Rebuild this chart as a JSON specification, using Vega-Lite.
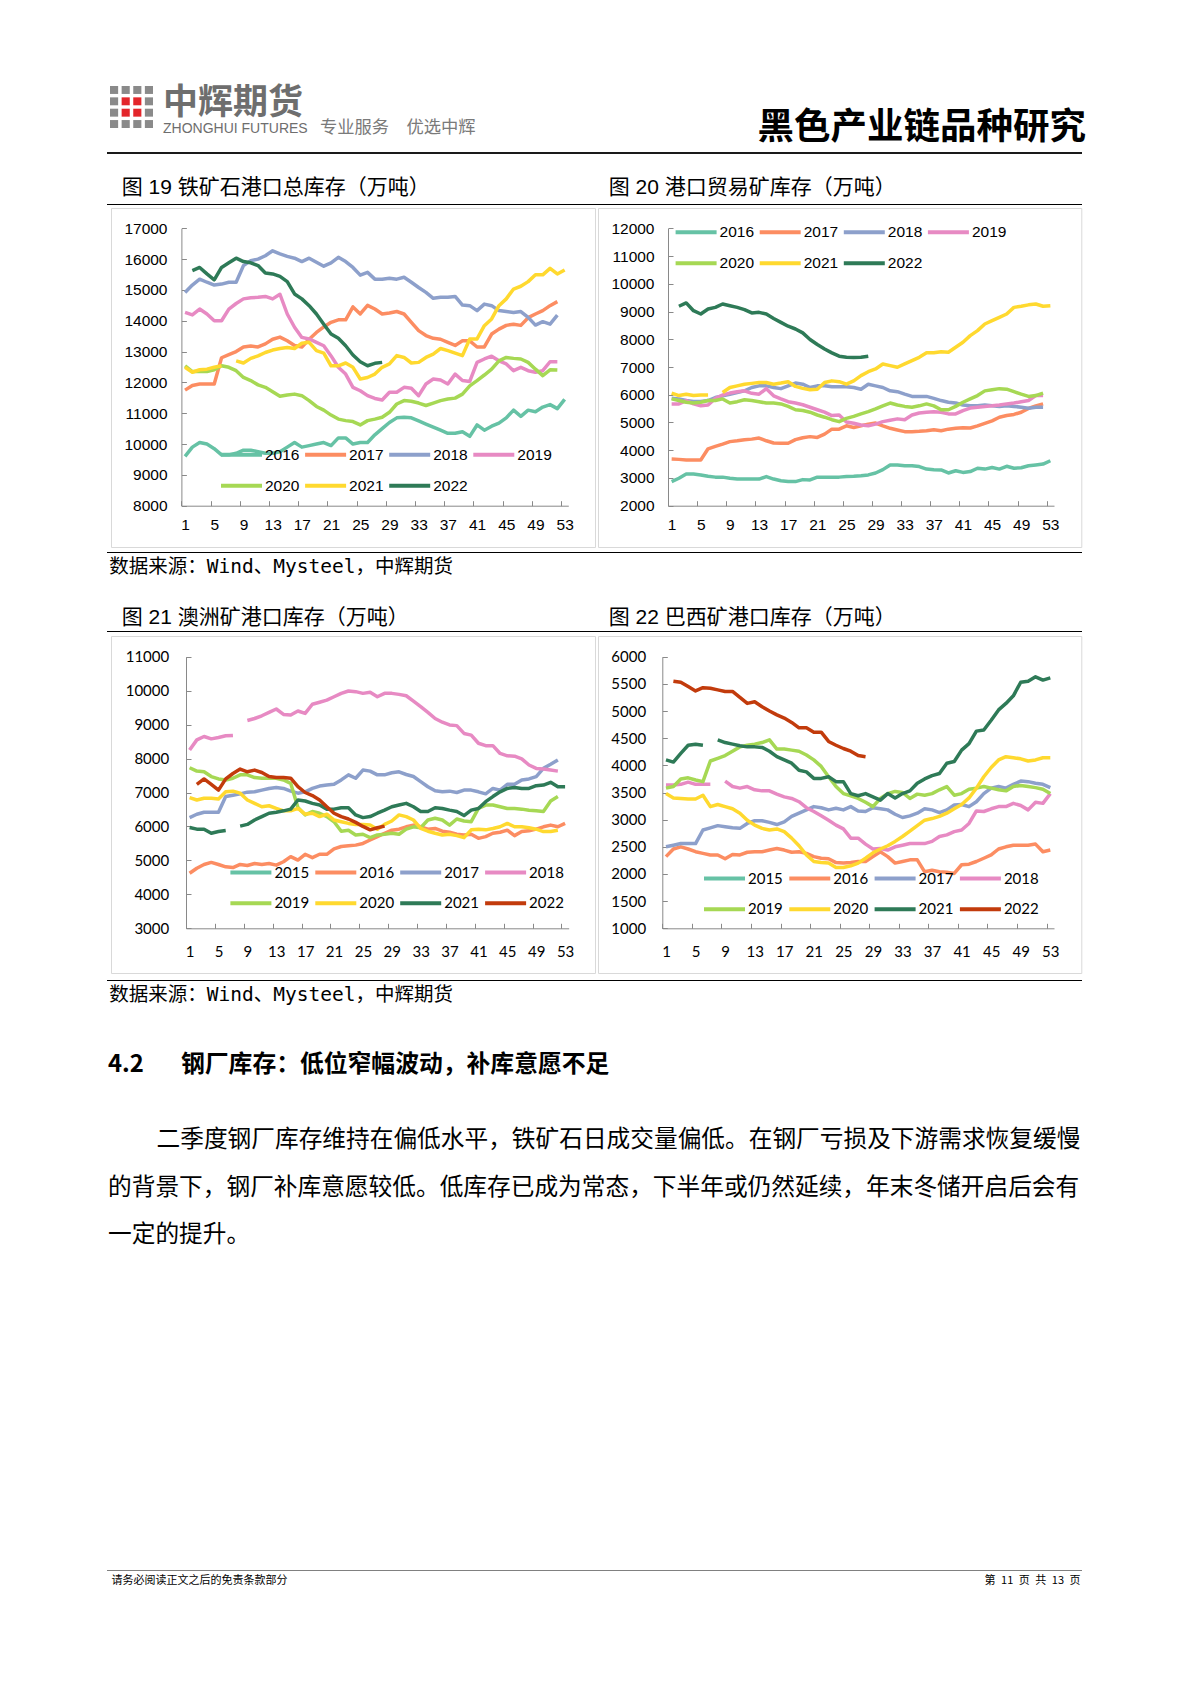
{
"$schema": "https://vega.github.io/schema/vega-lite/v6.json",
"background": "white",
"padding": {"left": 107, "top": 0, "right": 108, "bottom": 0},
"spacing": 0,
"resolve": {"scale": {"color": "independent"}, "legend": {"color": "independent"}},
"config": {
  "view": {"stroke": null},
  "title": {"orient": "bottom", "anchor": "start", "frame": "group", "baseline": "top", "font": "Noto Sans CJK SC", "fontWeight": "normal", "color": "#000000"},
  "axis": {"grid": false, "domainColor": "#898989", "tickColor": "#898989", "labelColor": "#000000", "title": null, "labelFlush": false, "labelOverlap": false, "tickSize": -5},
  "legend": {"orient": "none", "direction": "horizontal", "columns": 4, "symbolType": "stroke", "symbolSize": 1681, "symbolStrokeWidth": 4, "labelOffset": 1, "padding": 0, "labelColor": "#000000"}
},
"datasets": {
  "none": [],
  "icon": [
    {"r":0,"c":0,"k":"g"},{"r":0,"c":1,"k":"g"},{"r":0,"c":2,"k":"g"},{"r":0,"c":3,"k":"g"},
    {"r":1,"c":0,"k":"g"},{"r":1,"c":1,"k":"r"},{"r":1,"c":2,"k":"r"},{"r":1,"c":3,"k":"g"},
    {"r":2,"c":0,"k":"g"},{"r":2,"c":1,"k":"r"},{"r":2,"c":2,"k":"r"},{"r":2,"c":3,"k":"g"},
    {"r":3,"c":0,"k":"g"},{"r":3,"c":1,"k":"g"},{"r":3,"c":2,"k":"g"},{"r":3,"c":3,"k":"g"}
  ],
  "c19": [
    {"w":1,"2016":9600,"2017":11750,"2018":14920,"2019":14270,"2020":12540,"2021":12490},
    {"w":2,"2016":9900,"2017":11900,"2018":15160,"2019":14190,"2020":12350,"2021":12330,"2022":15630},
    {"w":3,"2016":10050,"2017":11950,"2018":15350,"2019":14380,"2020":12350,"2021":12410,"2022":15730},
    {"w":4,"2016":10000,"2017":11950,"2018":15250,"2019":14220,"2020":12350,"2021":12430,"2022":15520},
    {"w":5,"2016":9850,"2017":11950,"2018":15160,"2019":14000,"2020":12410,"2021":12490,"2022":15330},
    {"w":6,"2016":9650,"2017":12800,"2018":15190,"2019":14000,"2020":12540,"2021":12540,"2022":15730},
    {"w":7,"2016":9650,"2017":12900,"2018":15250,"2019":14380,"2020":12490,"2021":null,"2022":15880},
    {"w":8,"2016":9700,"2017":13000,"2018":15250,"2019":14560,"2020":12380,"2021":12700,"2022":16030},
    {"w":9,"2016":9800,"2017":13150,"2018":15790,"2019":14710,"2020":12160,"2021":12630,"2022":15920},
    {"w":10,"2016":9800,"2017":13180,"2018":15950,"2019":14750,"2020":12060,"2021":12780,"2022":15880},
    {"w":11,"2016":9750,"2017":13150,"2018":16000,"2019":14760,"2020":11920,"2021":12860,"2022":15790},
    {"w":12,"2016":9700,"2017":13250,"2018":16110,"2019":14790,"2020":11840,"2021":12970,"2022":15550},
    {"w":13,"2016":9700,"2017":13400,"2018":16270,"2019":14710,"2020":11700,"2021":13050,"2022":15520},
    {"w":14,"2016":9750,"2017":13470,"2018":16170,"2019":14860,"2020":11550,"2021":13100,"2022":15440},
    {"w":15,"2016":9900,"2017":13350,"2018":16090,"2019":14220,"2020":11590,"2021":13130,"2022":15270},
    {"w":16,"2016":10050,"2017":13200,"2018":16030,"2019":13790,"2020":11620,"2021":13100,"2022":14870},
    {"w":17,"2016":9900,"2017":13150,"2018":15920,"2019":13460,"2020":11570,"2021":13270,"2022":14710},
    {"w":18,"2016":9950,"2017":13400,"2018":16030,"2019":13410,"2020":11410,"2021":13300,"2022":14490},
    {"w":19,"2016":10000,"2017":13620,"2018":15900,"2019":13300,"2020":11220,"2021":13030,"2022":14220},
    {"w":20,"2016":10050,"2017":13800,"2018":15770,"2019":13190,"2020":11100,"2021":12950,"2022":13890},
    {"w":21,"2016":9950,"2017":13950,"2018":15880,"2019":12860,"2020":10940,"2021":12540,"2022":13570},
    {"w":22,"2016":10200,"2017":14030,"2018":16060,"2019":12490,"2020":10810,"2021":12540,"2022":13430},
    {"w":23,"2016":10200,"2017":14030,"2018":15920,"2019":12270,"2020":10760,"2021":12630,"2022":13190},
    {"w":24,"2016":10000,"2017":14450,"2018":15730,"2019":11840,"2020":10730,"2021":12490,"2022":12890},
    {"w":25,"2016":10050,"2017":14220,"2018":15480,"2019":11730,"2020":10620,"2021":12110,"2022":12670},
    {"w":26,"2016":10050,"2017":14500,"2018":15570,"2019":11570,"2020":10760,"2021":12160,"2022":12540},
    {"w":27,"2016":10300,"2017":14380,"2018":15350,"2019":11480,"2020":10810,"2021":12270,"2022":12620},
    {"w":28,"2016":10500,"2017":14220,"2018":15350,"2019":11430,"2020":10870,"2021":12490,"2022":12650},
    {"w":29,"2016":10700,"2017":14250,"2018":15380,"2019":11680,"2020":11030,"2021":12600},
    {"w":30,"2016":10850,"2017":14300,"2018":15350,"2019":11680,"2020":11300,"2021":12870},
    {"w":31,"2016":10870,"2017":14220,"2018":15410,"2019":11840,"2020":11410,"2021":12810},
    {"w":32,"2016":10850,"2017":13950,"2018":15250,"2019":11810,"2020":11390,"2021":12630},
    {"w":33,"2016":10750,"2017":13680,"2018":15080,"2019":11570,"2020":11330,"2021":12650},
    {"w":34,"2016":10650,"2017":13520,"2018":14920,"2019":11950,"2020":11250,"2021":12810},
    {"w":35,"2016":10550,"2017":13430,"2018":14730,"2019":12110,"2020":11330,"2021":12920},
    {"w":36,"2016":10450,"2017":13400,"2018":14760,"2019":12080,"2020":11410,"2021":13100},
    {"w":37,"2016":10350,"2017":13300,"2018":14760,"2019":11950,"2020":11460,"2021":13030},
    {"w":38,"2016":10350,"2017":13200,"2018":14790,"2019":12270,"2020":11490,"2021":12950},
    {"w":39,"2016":10400,"2017":13350,"2018":14510,"2019":12060,"2020":11620,"2021":12870},
    {"w":40,"2016":10250,"2017":13350,"2018":14490,"2019":12030,"2020":11890,"2021":13410},
    {"w":41,"2016":10620,"2017":13150,"2018":14330,"2019":12650,"2020":12060,"2021":13410},
    {"w":42,"2016":10450,"2017":13150,"2018":14540,"2019":12760,"2020":12240,"2021":13840},
    {"w":43,"2016":10580,"2017":13570,"2018":14490,"2019":12850,"2020":12430,"2021":14060},
    {"w":44,"2016":10680,"2017":13730,"2018":14330,"2019":12700,"2020":12700,"2021":14490},
    {"w":45,"2016":10850,"2017":13850,"2018":14300,"2019":12600,"2020":12810,"2021":14710},
    {"w":46,"2016":11100,"2017":13890,"2018":14270,"2019":12380,"2020":12780,"2021":15030},
    {"w":47,"2016":10900,"2017":13850,"2018":14300,"2019":12490,"2020":12760,"2021":15120},
    {"w":48,"2016":11100,"2017":14100,"2018":14110,"2019":12380,"2020":12650,"2021":15270},
    {"w":49,"2016":11050,"2017":14220,"2018":13860,"2019":12330,"2020":12430,"2021":15490},
    {"w":50,"2016":11200,"2017":14330,"2018":13970,"2019":12380,"2020":12220,"2021":15490},
    {"w":51,"2016":11280,"2017":14490,"2018":13890,"2019":12670,"2020":12410,"2021":15700},
    {"w":52,"2016":11150,"2017":14620,"2018":14180,"2019":12670,"2020":12400,"2021":15520},
    {"w":53,"2016":11450,"2021":15650}
  ],
  "c20": [
    {"w":1,"2016":2870,"2017":3680,"2018":5870,"2019":5670,"2020":5850,"2021":6060},
    {"w":2,"2016":2990,"2017":3670,"2018":5850,"2019":5670,"2020":5790,"2021":5970,"2022":9190},
    {"w":3,"2016":3140,"2017":3650,"2018":5790,"2019":5790,"2020":5730,"2021":6020,"2022":9310},
    {"w":4,"2016":3140,"2017":3650,"2018":5760,"2019":5670,"2020":5700,"2021":5970,"2022":9030},
    {"w":5,"2016":3110,"2017":3650,"2018":5760,"2019":5600,"2020":5730,"2021":5990,"2022":8910},
    {"w":6,"2016":3060,"2017":4050,"2018":5790,"2019":5630,"2020":5790,"2021":5990,"2022":9090},
    {"w":7,"2016":3030,"2017":4140,"2018":5900,"2019":5870,"2020":5790,"2021":null,"2022":9150},
    {"w":8,"2016":3030,"2017":4220,"2018":5960,"2019":5990,"2020":5850,"2021":6080,"2022":9270},
    {"w":9,"2016":2990,"2017":4310,"2018":6020,"2019":6060,"2020":5700,"2021":6260,"2022":9210},
    {"w":10,"2016":2960,"2017":4340,"2018":6080,"2019":6110,"2020":5750,"2021":6320,"2022":9150},
    {"w":11,"2016":2960,"2017":4380,"2018":6140,"2019":6140,"2020":5820,"2021":6380,"2022":9070},
    {"w":12,"2016":2960,"2017":4400,"2018":6260,"2019":6050,"2020":5790,"2021":6410,"2022":8950},
    {"w":13,"2016":2960,"2017":4440,"2018":6320,"2019":6020,"2020":5750,"2021":6440,"2022":8970},
    {"w":14,"2016":3050,"2017":4340,"2018":6320,"2019":6220,"2020":5700,"2021":6440,"2022":8910},
    {"w":15,"2016":2960,"2017":4260,"2018":6260,"2019":5960,"2020":5700,"2021":6380,"2022":8750},
    {"w":16,"2016":2900,"2017":4250,"2018":6220,"2019":5850,"2020":5670,"2021":6420,"2022":8610},
    {"w":17,"2016":2870,"2017":4250,"2018":6320,"2019":5750,"2020":5580,"2021":6470,"2022":8470},
    {"w":18,"2016":2870,"2017":4380,"2018":6420,"2019":5700,"2020":5460,"2021":6300,"2022":8370},
    {"w":19,"2016":2940,"2017":4450,"2018":6380,"2019":5640,"2020":5430,"2021":6230,"2022":8230},
    {"w":20,"2016":2930,"2017":4490,"2018":6260,"2019":5550,"2020":5370,"2021":6180,"2022":7990},
    {"w":21,"2016":3030,"2017":4460,"2018":6320,"2019":5460,"2020":5270,"2021":6200,"2022":7810},
    {"w":22,"2016":3030,"2017":4580,"2018":6320,"2019":5370,"2020":5190,"2021":6440,"2022":7650},
    {"w":23,"2016":3030,"2017":4760,"2018":6290,"2019":5250,"2020":5100,"2021":6500,"2022":7510},
    {"w":24,"2016":3030,"2017":4760,"2018":6290,"2019":5270,"2020":5030,"2021":6470,"2022":7390},
    {"w":25,"2016":3050,"2017":4880,"2018":6290,"2019":5020,"2020":5150,"2021":6380,"2022":7350},
    {"w":26,"2016":3060,"2017":4820,"2018":6260,"2019":4970,"2020":5220,"2021":6500,"2022":7340},
    {"w":27,"2016":3080,"2017":4880,"2018":6200,"2019":4910,"2020":5310,"2021":6690,"2022":7350},
    {"w":28,"2016":3110,"2017":4940,"2018":6380,"2019":4880,"2020":5390,"2021":6830,"2022":7390},
    {"w":29,"2016":3180,"2017":4980,"2018":6320,"2019":4940,"2020":5490,"2021":6930},
    {"w":30,"2016":3300,"2017":4880,"2018":6260,"2019":5030,"2020":5600,"2021":7110},
    {"w":31,"2016":3470,"2017":4790,"2018":6140,"2019":5080,"2020":5700,"2021":7050},
    {"w":32,"2016":3470,"2017":4730,"2018":6110,"2019":5130,"2020":5630,"2021":6990},
    {"w":33,"2016":3440,"2017":4670,"2018":6020,"2019":5100,"2020":5580,"2021":7110},
    {"w":34,"2016":3440,"2017":4670,"2018":5940,"2019":5270,"2020":5550,"2021":7230},
    {"w":35,"2016":3410,"2017":4680,"2018":5940,"2019":5340,"2020":5600,"2021":7350},
    {"w":36,"2016":3320,"2017":4700,"2018":5940,"2019":5370,"2020":5670,"2021":7510},
    {"w":37,"2016":3300,"2017":4740,"2018":5870,"2019":5390,"2020":5600,"2021":7510},
    {"w":38,"2016":3290,"2017":4700,"2018":5790,"2019":5370,"2020":5460,"2021":7550},
    {"w":39,"2016":3180,"2017":4760,"2018":5730,"2019":5310,"2020":5460,"2021":7530},
    {"w":40,"2016":3260,"2017":4790,"2018":5700,"2019":5310,"2020":5580,"2021":7710},
    {"w":41,"2016":3200,"2017":4810,"2018":5630,"2019":5430,"2020":5730,"2021":7890},
    {"w":42,"2016":3230,"2017":4800,"2018":5600,"2019":5520,"2020":5850,"2021":8130},
    {"w":43,"2016":3350,"2017":4880,"2018":5600,"2019":5550,"2020":5970,"2021":8310},
    {"w":44,"2016":3320,"2017":4970,"2018":5630,"2019":5580,"2020":6140,"2021":8550},
    {"w":45,"2016":3380,"2017":5060,"2018":5600,"2019":5600,"2020":6180,"2021":8670},
    {"w":46,"2016":3320,"2017":5190,"2018":5580,"2019":5630,"2020":6220,"2021":8790},
    {"w":47,"2016":3420,"2017":5250,"2018":5600,"2019":5670,"2020":6200,"2021":8910},
    {"w":48,"2016":3350,"2017":5290,"2018":5580,"2019":5700,"2020":6110,"2021":9150},
    {"w":49,"2016":3370,"2017":5370,"2018":5550,"2019":5750,"2020":6020,"2021":9190},
    {"w":50,"2016":3440,"2017":5510,"2018":5510,"2019":5790,"2020":5940,"2021":9240},
    {"w":51,"2016":3470,"2017":5600,"2018":5550,"2019":5970,"2020":5970,"2021":9270},
    {"w":52,"2016":3500,"2017":5670,"2018":5550,"2019":5970,"2020":6060,"2021":9190},
    {"w":53,"2016":3620,"2021":9210}
  ],
  "c21": [
    {"w":1,"2016":4620,"2017":6260,"2018":8250,"2019":7730,"2020":6850,"2021":5970},
    {"w":2,"2016":4770,"2017":6360,"2018":8550,"2019":7630,"2020":6780,"2021":5920,"2022":7240},
    {"w":3,"2016":4880,"2017":6420,"2018":8650,"2019":7610,"2020":6830,"2021":5920,"2022":7400},
    {"w":4,"2016":4940,"2017":6420,"2018":8580,"2019":7470,"2020":6830,"2021":5800,"2022":7240},
    {"w":5,"2016":4880,"2017":6420,"2018":8620,"2019":7400,"2020":6810,"2021":5850,"2022":7070},
    {"w":6,"2016":4810,"2017":6880,"2018":8670,"2019":7370,"2020":7020,"2021":5880,"2022":7400},
    {"w":7,"2016":4790,"2017":6920,"2018":8680,"2019":7420,"2020":7040,"2021":null,"2022":7560},
    {"w":8,"2016":4880,"2017":6960,"2018":null,"2019":7520,"2020":6980,"2021":6010,"2022":7690},
    {"w":9,"2016":4850,"2017":7010,"2018":9120,"2019":7520,"2020":6780,"2021":6060,"2022":7610},
    {"w":10,"2016":4910,"2017":7020,"2018":9180,"2019":7440,"2020":6680,"2021":6190,"2022":7660},
    {"w":11,"2016":4880,"2017":7070,"2018":9260,"2019":7420,"2020":6580,"2021":6290,"2022":7590},
    {"w":12,"2016":4910,"2017":7120,"2018":9360,"2019":7420,"2020":6610,"2021":6390,"2022":7470},
    {"w":13,"2016":4860,"2017":7150,"2018":9460,"2019":7420,"2020":6530,"2021":6420,"2022":7440},
    {"w":14,"2016":4960,"2017":7120,"2018":9300,"2019":7370,"2020":6460,"2021":6460,"2022":7440},
    {"w":15,"2016":5110,"2017":7040,"2018":9280,"2019":7270,"2020":6460,"2021":6510,"2022":7420},
    {"w":16,"2016":5010,"2017":6980,"2018":9400,"2019":6560,"2020":6530,"2021":6780,"2022":7170},
    {"w":17,"2016":5180,"2017":7020,"2018":9330,"2019":6340,"2020":6360,"2021":6750,"2022":7000},
    {"w":18,"2016":5080,"2017":7120,"2018":9600,"2019":6440,"2020":6390,"2021":6680,"2022":6910},
    {"w":19,"2016":5180,"2017":7190,"2018":9660,"2019":6390,"2020":6290,"2021":6630,"2022":6780},
    {"w":20,"2016":5180,"2017":7220,"2018":9720,"2019":6290,"2020":6360,"2021":6510,"2022":6580},
    {"w":21,"2016":5340,"2017":7240,"2018":9820,"2019":6140,"2020":6190,"2021":6510,"2022":6390},
    {"w":22,"2016":5410,"2017":7370,"2018":9920,"2019":5860,"2020":6140,"2021":6550,"2022":6290},
    {"w":23,"2016":5430,"2017":7520,"2018":9990,"2019":5890,"2020":6090,"2021":6550,"2022":6220},
    {"w":24,"2016":5450,"2017":7420,"2018":9970,"2019":5750,"2020":6060,"2021":6340,"2022":6120},
    {"w":25,"2016":5500,"2017":7660,"2018":9920,"2019":5770,"2020":6060,"2021":6260,"2022":6000},
    {"w":26,"2016":5600,"2017":7630,"2018":9950,"2019":5670,"2020":6040,"2021":6290,"2022":5900},
    {"w":27,"2016":5700,"2017":7520,"2018":9820,"2019":5750,"2020":5920,"2021":6390,"2022":5960},
    {"w":28,"2016":5800,"2017":7520,"2018":9920,"2019":5770,"2020":6060,"2021":6480,"2022":6010},
    {"w":29,"2016":5890,"2017":7580,"2018":9920,"2019":5800,"2020":6160,"2021":6580},
    {"w":30,"2016":5920,"2017":7610,"2018":9890,"2019":5770,"2020":6340,"2021":6630},
    {"w":31,"2016":5990,"2017":7530,"2018":9850,"2019":5920,"2020":6290,"2021":6680},
    {"w":32,"2016":6040,"2017":7470,"2018":9690,"2019":5990,"2020":6190,"2021":6580},
    {"w":33,"2016":5990,"2017":7320,"2018":9530,"2019":5960,"2020":5940,"2021":6440},
    {"w":34,"2016":5920,"2017":7170,"2018":9360,"2019":6190,"2020":5860,"2021":6440},
    {"w":35,"2016":5940,"2017":7050,"2018":9180,"2019":6240,"2020":5800,"2021":6550},
    {"w":36,"2016":5860,"2017":7020,"2018":9070,"2019":6190,"2020":5750,"2021":6530},
    {"w":37,"2016":5830,"2017":7040,"2018":8990,"2019":6040,"2020":5770,"2021":6480},
    {"w":38,"2016":5770,"2017":7000,"2018":8970,"2019":6220,"2020":5730,"2021":6440},
    {"w":39,"2016":5750,"2017":7070,"2018":8740,"2019":6160,"2020":5670,"2021":6320},
    {"w":40,"2016":5770,"2017":7070,"2018":8690,"2019":6140,"2020":5900,"2021":6480},
    {"w":41,"2016":5650,"2017":7020,"2018":8450,"2019":6530,"2020":5920,"2021":6530},
    {"w":42,"2016":5700,"2017":6960,"2018":8380,"2019":6630,"2020":5900,"2021":6730},
    {"w":43,"2016":5800,"2017":7120,"2018":8380,"2019":6630,"2020":5940,"2021":6880},
    {"w":44,"2016":5830,"2017":7070,"2018":8150,"2019":6580,"2020":5990,"2021":7020},
    {"w":45,"2016":5890,"2017":7240,"2018":8080,"2019":6530,"2020":6090,"2021":7120},
    {"w":46,"2016":5730,"2017":7240,"2018":8070,"2019":6530,"2020":5990,"2021":7150},
    {"w":47,"2016":5850,"2017":7370,"2018":7990,"2019":6510,"2020":5990,"2021":7120},
    {"w":48,"2016":5870,"2017":7400,"2018":7810,"2019":6480,"2020":5960,"2021":7120},
    {"w":49,"2016":5920,"2017":7470,"2018":7710,"2019":6460,"2020":5920,"2021":7200},
    {"w":50,"2016":5990,"2017":7710,"2018":7690,"2019":6440,"2020":5850,"2021":7220},
    {"w":51,"2016":6040,"2017":7830,"2018":7660,"2019":6750,"2020":5850,"2021":7300},
    {"w":52,"2016":5990,"2017":7960,"2018":7630,"2019":6880,"2020":5890,"2021":7170},
    {"w":53,"2016":6090,"2021":7170}
  ],
  "c22": [
    {"w":1,"2016":2320,"2017":2500,"2018":3640,"2019":3580,"2020":3480,"2021":4100},
    {"w":2,"2016":2460,"2017":2530,"2018":3640,"2019":3610,"2020":3400,"2021":4060,"2022":5550},
    {"w":3,"2016":2500,"2017":2560,"2018":3650,"2019":3750,"2020":3390,"2021":4220,"2022":5530},
    {"w":4,"2016":2460,"2017":2560,"2018":3690,"2019":3770,"2020":3380,"2021":4370,"2022":5450},
    {"w":5,"2016":2410,"2017":2560,"2018":3650,"2019":3730,"2020":3380,"2021":4390,"2022":5370},
    {"w":6,"2016":2380,"2017":2810,"2018":3650,"2019":3700,"2020":3450,"2021":4370,"2022":5430},
    {"w":7,"2016":2350,"2017":2850,"2018":3650,"2019":4080,"2020":3240,"2021":null,"2022":5420},
    {"w":8,"2016":2350,"2017":2890,"2018":null,"2019":4130,"2020":3280,"2021":4470,"2022":5390},
    {"w":9,"2016":2280,"2017":2870,"2018":3710,"2019":4180,"2020":3240,"2021":4420,"2022":5360},
    {"w":10,"2016":2360,"2017":2850,"2018":3610,"2019":4260,"2020":3200,"2021":4390,"2022":5360},
    {"w":11,"2016":2350,"2017":2840,"2018":3580,"2019":4340,"2020":3120,"2021":4360,"2022":5250},
    {"w":12,"2016":2400,"2017":2930,"2018":3610,"2019":4370,"2020":2990,"2021":4340,"2022":5140},
    {"w":13,"2016":2410,"2017":2980,"2018":3550,"2019":4390,"2020":2900,"2021":4340,"2022":5170},
    {"w":14,"2016":2410,"2017":2980,"2018":3530,"2019":4420,"2020":2840,"2021":4330,"2022":5080},
    {"w":15,"2016":2440,"2017":2950,"2018":3530,"2019":4470,"2020":2810,"2021":4260,"2022":5000},
    {"w":16,"2016":2470,"2017":2910,"2018":3470,"2019":4300,"2020":2830,"2021":4160,"2022":4930},
    {"w":17,"2016":2440,"2017":2960,"2018":3420,"2019":4300,"2020":2780,"2021":4100,"2022":4870},
    {"w":18,"2016":2400,"2017":3060,"2018":3390,"2019":4280,"2020":2660,"2021":4040,"2022":4790},
    {"w":19,"2016":2410,"2017":3120,"2018":3330,"2019":4260,"2020":2520,"2021":3910,"2022":4690},
    {"w":20,"2016":2380,"2017":3180,"2018":3220,"2019":4190,"2020":2350,"2021":3880,"2022":4690},
    {"w":21,"2016":2320,"2017":3240,"2018":3150,"2019":4100,"2020":2230,"2021":3760,"2022":4610},
    {"w":22,"2016":2290,"2017":3220,"2018":3070,"2019":3980,"2020":2210,"2021":3760,"2022":4610},
    {"w":23,"2016":2280,"2017":3180,"2018":2990,"2019":3790,"2020":2200,"2021":3790,"2022":4440},
    {"w":24,"2016":2210,"2017":3210,"2018":2900,"2019":3610,"2020":2120,"2021":3700,"2022":4370},
    {"w":25,"2016":2200,"2017":3180,"2018":2830,"2019":3480,"2020":2120,"2021":3700,"2022":4310},
    {"w":26,"2016":2210,"2017":3240,"2018":2660,"2019":3440,"2020":2150,"2021":3480,"2022":4260},
    {"w":27,"2016":2230,"2017":3160,"2018":2660,"2019":3390,"2020":2200,"2021":3440,"2022":4180},
    {"w":28,"2016":2230,"2017":3150,"2018":2550,"2019":3320,"2020":2290,"2021":3480,"2022":4160},
    {"w":29,"2016":2320,"2017":3220,"2018":2460,"2019":3240,"2020":2390,"2021":3420},
    {"w":30,"2016":2410,"2017":3200,"2018":2470,"2019":3390,"2020":2460,"2021":3360},
    {"w":31,"2016":2320,"2017":3180,"2018":2440,"2019":3480,"2020":2520,"2021":3480},
    {"w":32,"2016":2200,"2017":3100,"2018":2500,"2019":3520,"2020":2600,"2021":3400},
    {"w":33,"2016":2230,"2017":3040,"2018":2530,"2019":3500,"2020":2690,"2021":3480},
    {"w":34,"2016":2260,"2017":3070,"2018":2560,"2019":3390,"2020":2790,"2021":3530},
    {"w":35,"2016":2260,"2017":3120,"2018":2560,"2019":3470,"2020":2890,"2021":3670},
    {"w":36,"2016":2040,"2017":3200,"2018":2560,"2019":3450,"2020":2990,"2021":3750},
    {"w":37,"2016":2070,"2017":3180,"2018":2600,"2019":3480,"2020":3020,"2021":3810},
    {"w":38,"2016":2040,"2017":3130,"2018":2690,"2019":3550,"2020":3060,"2021":3850},
    {"w":39,"2016":2030,"2017":3180,"2018":2720,"2019":3610,"2020":3120,"2021":4040},
    {"w":40,"2016":2010,"2017":3270,"2018":2780,"2019":3450,"2020":3200,"2021":4070},
    {"w":41,"2016":2170,"2017":3280,"2018":2810,"2019":3480,"2020":3280,"2021":4280},
    {"w":42,"2016":2180,"2017":3240,"2018":2930,"2019":3560,"2020":3400,"2021":4400},
    {"w":43,"2016":2230,"2017":3330,"2018":3160,"2019":3580,"2020":3580,"2021":4630},
    {"w":44,"2016":2290,"2017":3480,"2018":3150,"2019":3610,"2020":3790,"2021":4650},
    {"w":45,"2016":2350,"2017":3580,"2018":3200,"2019":3580,"2020":3960,"2021":4830},
    {"w":46,"2016":2460,"2017":3610,"2018":3240,"2019":3550,"2020":4100,"2021":5020},
    {"w":47,"2016":2500,"2017":3580,"2018":3240,"2019":3530,"2020":4160,"2021":5140},
    {"w":48,"2016":2530,"2017":3650,"2018":3300,"2019":3610,"2020":4140,"2021":5280},
    {"w":49,"2016":2530,"2017":3710,"2018":3260,"2019":3630,"2020":4120,"2021":5530},
    {"w":50,"2016":2530,"2017":3700,"2018":3180,"2019":3610,"2020":4080,"2021":5550},
    {"w":51,"2016":2550,"2017":3670,"2018":3320,"2019":3590,"2020":4100,"2021":5630},
    {"w":52,"2016":2410,"2017":3650,"2018":3300,"2019":3560,"2020":4140,"2021":5570},
    {"w":53,"2016":2440,"2017":3590,"2018":3480,"2019":3480,"2020":4140,"2021":5610}
  ]
},
"vconcat": [
  {"spacing": 0, "resolve": {"scale": {"color": "independent"}, "legend": {"color": "independent"}}, "hconcat": [
    {"data": {"name": "none"}, "mark": "point", "width": 3, "height": 151.5},
    {"spacing": 0, "vconcat": [
      {"data": {"name": "none"}, "mark": "point", "width": 43, "height": 86},
      {"data": {"name": "icon"}, "mark": {"type": "rect"}, "width": 43, "height": 42,
       "encoding": {
         "x": {"field": "c", "type": "ordinal", "axis": null, "scale": {"paddingInner": 0.3, "paddingOuter": 0}},
         "y": {"field": "r", "type": "ordinal", "axis": null, "scale": {"paddingInner": 0.3, "paddingOuter": 0}},
         "color": {"field": "k", "type": "nominal", "legend": null, "scale": {"domain": ["g", "r"], "range": ["#8a8a8a", "#e3262b"]}}
       }}
    ]},
    {"data": {"name": "none"}, "mark": "point", "width": 10, "height": 151.5},
    {"data": {"name": "none"}, "mark": "point", "width": 147, "height": 151.5,
     "title": {"text": "中辉期货", "subtitle": "ZHONGHUI FUTURES", "fontSize": 35, "fontWeight": "bold", "color": "#6e6e6e", "offset": -66, "subtitleFont": "Liberation Sans", "subtitleFontSize": 14, "subtitleColor": "#6e6e6e", "subtitlePadding": 1}},
    {"data": {"name": "none"}, "mark": "point", "width": 10, "height": 151.5},
    {"data": {"name": "none"}, "mark": "point", "width": 437, "height": 151.5,
     "title": {"text": "专业服务　优选中辉", "fontSize": 17.3, "color": "#7a7a7a", "offset": -32.9}},
    {"data": {"name": "none"}, "mark": "point", "width": 325, "height": 151.5,
     "title": {"text": "黑色产业链品种研究", "fontSize": 36.5, "fontWeight": "bold", "color": "#000000", "anchor": "end", "dx": 2, "offset": -41.2}}
  ]},
  {"data": {"name": "none"}, "mark": "point", "width": 975, "height": 2, "view": {"fill": "#1a1a1a", "stroke": null}},
  {"spacing": 0, "hconcat": [
    {"data": {"name": "none"}, "mark": "point", "width": 489.3, "height": 50,
     "title": {"text": "图 19 铁矿石港口总库存（万吨）", "font": "Liberation Sans, Noto Sans CJK SC", "fontSize": 21, "dx": 14.7, "offset": -26.6}},
    {"data": {"name": "none"}, "mark": "point", "width": 485.7, "height": 50,
     "title": {"text": "图 20 港口贸易矿库存（万吨）", "font": "Liberation Sans, Noto Sans CJK SC", "fontSize": 21, "dx": 11.7, "offset": -26.6}}
  ]},
  {"data": {"name": "none"}, "mark": "point", "width": 975, "height": 1, "view": {"fill": "#000000", "stroke": null}},
  {"data": {"name": "none"}, "mark": "point", "width": 975, "height": 1.5},
  {"spacing": 0, "resolve": {"scale": {"color": "independent"}, "legend": {"color": "independent"}}, "hconcat": [
    {"data": {"name": "none"}, "mark": "point", "width": 2.3, "height": 339},
    {"width": 484, "height": 339, "view": {"stroke": "#d9d9d9"},
     "data": {"name": "c19"},
     "transform": [{"fold": ["2016", "2017", "2018", "2019", "2020", "2021", "2022"], "as": ["yr", "v"]}],
     "mark": {"type": "line", "strokeWidth": 3.5, "strokeJoin": "round", "invalid": "break-paths-filter-domains"},
     "encoding": {
       "x": {"field": "w", "type": "quantitative", "scale": {"domain": [0.5, 53.5], "range": [70.4, 457.3], "nice": false, "zero": false},
             "axis": {"values": [0.5, 4.5, 8.5, 12.5, 16.5, 20.5, 24.5, 28.5, 32.5, 36.5, 40.5, 44.5, 48.5, 52.5], "labelExpr": "format(datum.value + 0.5, 'd')", "offset": -41.3, "labelOffset": 3.65, "labelPadding": 16.6, "labelFont": "Liberation Sans", "labelFontSize": 15.5}},
       "y": {"field": "v", "type": "quantitative", "scale": {"domain": [8000, 17000], "range": [297.7, 20.3], "nice": false, "zero": false},
             "axis": {"values": [8000, 9000, 10000, 11000, 12000, 13000, 14000, 15000, 16000, 17000], "format": "d", "offset": -70.4, "labelPadding": 19.4, "labelFont": "Liberation Sans", "labelFontSize": 15.5}},
       "color": {"field": "yr", "type": "nominal",
                 "scale": {"domain": ["2016", "2017", "2018", "2019", "2020", "2021", "2022"], "range": ["#66c2a5", "#fc8d62", "#8da0cb", "#e78ac3", "#a6d854", "#ffd92f", "#2e7a57"]},
                 "legend": {"title": null, "legendX": 108, "legendY": 224.2, "columnPadding": -2.9, "rowPadding": -15.7, "labelFont": "Liberation Sans", "labelFontSize": 15.5}}
     }},
    {"data": {"name": "none"}, "mark": "point", "width": 0.5, "height": 339},
    {"width": 483.3, "height": 339, "view": {"stroke": "#d9d9d9"},
     "data": {"name": "c20"},
     "transform": [{"fold": ["2016", "2017", "2018", "2019", "2020", "2021", "2022"], "as": ["yr", "v"]}],
     "mark": {"type": "line", "strokeWidth": 3.5, "strokeJoin": "round", "invalid": "break-paths-filter-domains"},
     "encoding": {
       "x": {"field": "w", "type": "quantitative", "scale": {"domain": [0.5, 53.5], "range": [70, 456], "nice": false, "zero": false},
             "axis": {"values": [0.5, 4.5, 8.5, 12.5, 16.5, 20.5, 24.5, 28.5, 32.5, 36.5, 40.5, 44.5, 48.5, 52.5], "labelExpr": "format(datum.value + 0.5, 'd')", "offset": -41.3, "labelOffset": 3.64, "labelPadding": 16.6, "labelFont": "Liberation Sans", "labelFontSize": 15.5}},
       "y": {"field": "v", "type": "quantitative", "scale": {"domain": [2000, 12000], "range": [297.7, 20.3], "nice": false, "zero": false},
             "axis": {"values": [2000, 3000, 4000, 5000, 6000, 7000, 8000, 9000, 10000, 11000, 12000], "format": "d", "offset": -70, "labelPadding": 19, "labelFont": "Liberation Sans", "labelFontSize": 15.5}},
       "color": {"field": "yr", "type": "nominal",
                 "scale": {"domain": ["2016", "2017", "2018", "2019", "2020", "2021", "2022"], "range": ["#66c2a5", "#fc8d62", "#8da0cb", "#e78ac3", "#a6d854", "#ffd92f", "#2e7a57"]},
                 "legend": {"title": null, "legendX": 75.6, "legendY": 1.8, "columnPadding": -2.9, "rowPadding": -15, "labelFont": "Liberation Sans", "labelFontSize": 15.5}}
     }}
  ]},
  {"data": {"name": "none"}, "mark": "point", "width": 975, "height": 3.5},
  {"data": {"name": "none"}, "mark": "point", "width": 975, "height": 1, "view": {"fill": "#000000", "stroke": null}},
  {"data": {"name": "none"}, "mark": "point", "width": 975, "height": 25,
   "title": {"text": "数据来源：Wind、Mysteel，中辉期货", "font": "DejaVu Sans Mono, Noto Sans CJK SC", "fontSize": 19.5, "dx": 2.3, "offset": -20.2}},
  {"spacing": 0, "hconcat": [
    {"data": {"name": "none"}, "mark": "point", "width": 489.3, "height": 53,
     "title": {"text": "图 21 澳洲矿港口库存（万吨）", "font": "Liberation Sans, Noto Sans CJK SC", "fontSize": 21, "dx": 14.7, "offset": -24}},
    {"data": {"name": "none"}, "mark": "point", "width": 485.7, "height": 53,
     "title": {"text": "图 22 巴西矿港口库存（万吨）", "font": "Liberation Sans, Noto Sans CJK SC", "fontSize": 21, "dx": 11.7, "offset": -24}}
  ]},
  {"data": {"name": "none"}, "mark": "point", "width": 975, "height": 1, "view": {"fill": "#000000", "stroke": null}},
  {"data": {"name": "none"}, "mark": "point", "width": 975, "height": 2.5},
  {"spacing": 0, "resolve": {"scale": {"color": "independent"}, "legend": {"color": "independent"}}, "hconcat": [
    {"data": {"name": "none"}, "mark": "point", "width": 2.3, "height": 337},
    {"width": 484, "height": 337, "view": {"stroke": "#d9d9d9"},
     "data": {"name": "c21"},
     "transform": [{"fold": ["2016", "2017", "2018", "2019", "2020", "2021", "2022"], "as": ["yr", "v"]}],
     "mark": {"type": "line", "strokeWidth": 3.5, "strokeJoin": "round", "invalid": "break-paths-filter-domains"},
     "encoding": {
       "x": {"field": "w", "type": "quantitative", "scale": {"domain": [0.5, 53.5], "range": [75, 457.7], "nice": false, "zero": false},
             "axis": {"values": [0.5, 4.5, 8.5, 12.5, 16.5, 20.5, 24.5, 28.5, 32.5, 36.5, 40.5, 44.5, 48.5, 52.5], "labelExpr": "format(datum.value + 0.5, 'd')", "offset": -44.7, "labelOffset": 3.61, "labelPadding": 21.2, "labelFont": "Lato", "labelFontSize": 15}},
       "y": {"field": "v", "type": "quantitative", "scale": {"domain": [3000, 11000], "range": [292.3, 20.7], "nice": false, "zero": false},
             "axis": {"values": [3000, 4000, 5000, 6000, 7000, 8000, 9000, 10000, 11000], "format": "d", "offset": -75, "labelPadding": 22.3, "labelFont": "Lato", "labelFontSize": 15}},
       "color": {"field": "yr", "type": "nominal",
                 "scale": {"domain": ["2015", "2016", "2017", "2018", "2019", "2020", "2021", "2022"], "range": ["#66c2a5", "#fc8d62", "#8da0cb", "#e78ac3", "#a6d854", "#ffd92f", "#2e7a57", "#c23b0c"]},
                 "legend": {"title": null, "legendX": 117.4, "legendY": 213.8, "columnPadding": -2.1, "rowPadding": -10.7, "labelFont": "Lato", "labelFontSize": 15}}
     }},
    {"data": {"name": "none"}, "mark": "point", "width": 0.5, "height": 337},
    {"width": 483.3, "height": 337, "view": {"stroke": "#d9d9d9"},
     "data": {"name": "c22"},
     "transform": [{"fold": ["2016", "2017", "2018", "2019", "2020", "2021", "2022"], "as": ["yr", "v"]}],
     "mark": {"type": "line", "strokeWidth": 3.5, "strokeJoin": "round", "invalid": "break-paths-filter-domains"},
     "encoding": {
       "x": {"field": "w", "type": "quantitative", "scale": {"domain": [0.5, 53.5], "range": [64.3, 456], "nice": false, "zero": false},
             "axis": {"values": [0.5, 4.5, 8.5, 12.5, 16.5, 20.5, 24.5, 28.5, 32.5, 36.5, 40.5, 44.5, 48.5, 52.5], "labelExpr": "format(datum.value + 0.5, 'd')", "offset": -44.7, "labelOffset": 3.7, "labelPadding": 21.2, "labelFont": "Lato", "labelFontSize": 15}},
       "y": {"field": "v", "type": "quantitative", "scale": {"domain": [1000, 6000], "range": [292.3, 20.7], "nice": false, "zero": false},
             "axis": {"values": [1000, 1500, 2000, 2500, 3000, 3500, 4000, 4500, 5000, 5500, 6000], "format": "d", "offset": -64.3, "labelPadding": 21.7, "labelFont": "Lato", "labelFontSize": 15}},
       "color": {"field": "yr", "type": "nominal",
                 "scale": {"domain": ["2015", "2016", "2017", "2018", "2019", "2020", "2021", "2022"], "range": ["#66c2a5", "#fc8d62", "#8da0cb", "#e78ac3", "#a6d854", "#ffd92f", "#2e7a57", "#c23b0c"]},
                 "legend": {"title": null, "legendX": 104, "legendY": 219.8, "columnPadding": -1.7, "rowPadding": -11.7, "labelFont": "Lato", "labelFontSize": 15}}
     }}
  ]},
  {"data": {"name": "none"}, "mark": "point", "width": 975, "height": 6},
  {"data": {"name": "none"}, "mark": "point", "width": 975, "height": 1, "view": {"fill": "#000000", "stroke": null}},
  {"data": {"name": "none"}, "mark": "point", "width": 975, "height": 24,
   "title": {"text": "数据来源：Wind、Mysteel，中辉期货", "font": "DejaVu Sans Mono, Noto Sans CJK SC", "fontSize": 19.5, "dx": 2.3, "offset": -19.4}},
  {"data": {"name": "none"}, "mark": "point", "width": 975, "height": 100,
   "title": {"text": "4.2\u3000\u2002\u200a钢厂库存：低位窄幅波动，补库意愿不足", "fontSize": 23.8, "fontWeight": "bold", "dx": 1, "offset": -52.2}},
  {"data": {"name": "none"}, "mark": "point", "width": 975, "height": 47.3,
   "title": {"text": "二季度钢厂库存维持在偏低水平，铁矿石日成交量偏低。在钢厂亏损及下游需求恢复缓慢", "fontSize": 23.7, "dx": 49.5, "offset": -24.2}},
  {"data": {"name": "none"}, "mark": "point", "width": 975, "height": 102.7,
   "title": {"text": ["的背景下，钢厂补库意愿较低。低库存已成为常态，下半年或仍然延续，年末冬储开启后会有", "一定的提升。"], "fontSize": 23.7, "lineHeight": 47.3, "dx": 1, "offset": -79.6}},
  {"data": {"name": "none"}, "mark": "point", "width": 975, "height": 313.5},
  {"data": {"name": "none"}, "mark": "point", "width": 975, "height": 1, "view": {"fill": "#808080", "stroke": null}},
  {"spacing": 0, "hconcat": [
    {"data": {"name": "none"}, "mark": "point", "width": 487.5, "height": 20,
     "title": {"text": "请务必阅读正文之后的免责条款部分", "fontSize": 11, "dx": 4.5, "offset": -16.2}},
    {"data": {"name": "none"}, "mark": "point", "width": 487.5, "height": 20,
     "title": {"text": "第\u200211\u2002页\u2002共\u200213\u2002页", "fontSize": 11, "anchor": "end", "dx": -2, "offset": -16.2}}
  ]},
  {"data": {"name": "none"}, "mark": "point", "width": 975, "height": 98.5}
]
}
